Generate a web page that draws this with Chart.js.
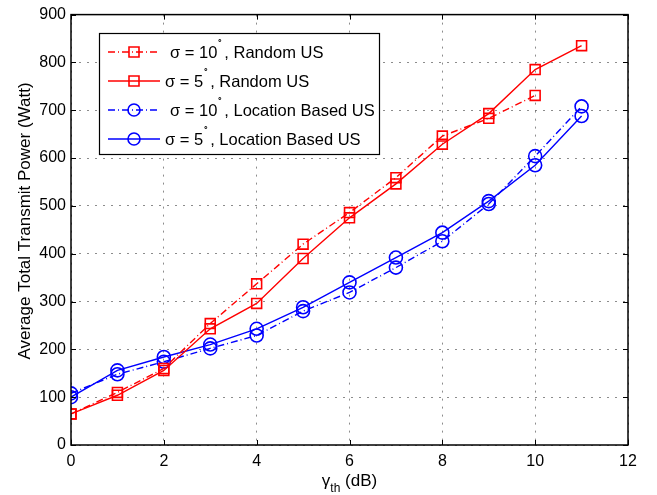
<!DOCTYPE html>
<html>
<head>
<meta charset="utf-8">
<script src="https://cdn.jsdelivr.net/npm/chart.js@4.4.0/dist/chart.umd.min.js"></script>
<style>
  html, body { margin: 0; padding: 0; background: #fff; }
  #wrap { width: 657px; height: 495px; }
</style>
</head>
<body>
<div id="wrap"><canvas id="powerChart" width="657" height="495"></canvas></div>
<script>
// gamma_th values (dB)
const gammaTh = [0, 1, 2, 3, 4, 5, 6, 7, 8, 9, 10, 11];

// Average total transmit power (Watt)
const randomSigma10 = [65, 110, 160, 254, 337, 420, 486, 559, 646, 683, 731];
const randomSigma5 = [65, 104, 156, 243, 296, 390, 475, 546, 629, 693, 785, 835];
const locationSigma10 = [108, 148, 174, 202, 229, 280, 319, 371, 426, 504, 604, 708];
const locationSigma5 = [100, 156, 184, 210, 243, 288, 340, 392, 444, 510, 585, 688];

// legend text pieces
const sigmaLabels = ["10", "5", "10", "5"];
const schemeLabels = ["Random US", "Random US", "Location Based US", "Location Based US"];

const xTicks = [0, 2, 4, 6, 8, 10, 12];
const yTicks = [0, 100, 200, 300, 400, 500, 600, 700, 800, 900];

const FONT = "'Liberation Sans', Arial, sans-serif";
const dashDot = [7, 3, 1, 3];

function toPoints(values) {
    return values.map((v, i) => ({ x: gammaTh[i], y: v }));
}

function makeSet(label, values, color, dash, shape) {
    return {
        label: label,
        data: toPoints(values),
        borderColor: color,
        borderWidth: 1.4,
        borderDash: dash,
        pointStyle: shape,
        pointRadius: shape === "rect" ? 7 : 6.5,
        pointBorderColor: color,
        pointBorderWidth: 1.6,
        pointBackgroundColor: "rgba(0,0,0,0)",
        fill: false,
        tension: 0
    };
}

const datasets = [
    makeSet("sigma10 random", randomSigma10, "#ff0000", dashDot, "rect"),
    makeSet("sigma5 random", randomSigma5, "#ff0000", [], "rect"),
    makeSet("sigma10 location", locationSigma10, "#0000ff", dashDot, "circle"),
    makeSet("sigma5 location", locationSigma5, "#0000ff", [], "circle")
];

// box, inner ticks, titles and legend, drawn the matlab way
const frame = {
    id: "frame",
    afterDraw(chart) {
        const ctx = chart.ctx;
        const a = chart.chartArea;
        const xs = chart.scales.x;
        const ys = chart.scales.y;
        ctx.save();

        // inner tick marks
        ctx.strokeStyle = "#000";
        ctx.lineWidth = 1;
        ctx.setLineDash([]);
        ctx.beginPath();
        xTicks.forEach(t => {
            const px = Math.round(xs.getPixelForValue(t)) + 0.5;
            ctx.moveTo(px, a.bottom); ctx.lineTo(px, a.bottom - 5);
            ctx.moveTo(px, a.top); ctx.lineTo(px, a.top + 5);
        });
        yTicks.forEach(t => {
            const py = Math.round(ys.getPixelForValue(t)) + 0.5;
            ctx.moveTo(a.left, py); ctx.lineTo(a.left + 5, py);
            ctx.moveTo(a.right, py); ctx.lineTo(a.right - 5, py);
        });
        ctx.stroke();

        // plot box
        ctx.lineWidth = 1.5;
        ctx.strokeRect(a.left, a.top, a.right - a.left, a.bottom - a.top);

        // y title
        ctx.fillStyle = "#000";
        ctx.font = "17px " + FONT;
        ctx.textAlign = "center";
        ctx.textBaseline = "middle";
        ctx.save();
        ctx.translate(25, 221);
        ctx.rotate(-Math.PI / 2);
        ctx.fillText("Average Total Transmit Power (Watt)", 0, 0);
        ctx.restore();

        // x title: gamma_th (dB)
        ctx.textAlign = "left";
        ctx.textBaseline = "alphabetic";
        const base = 486;
        const g = "γ", sub = "th", rest = " (dB)";
        ctx.font = "17px " + FONT;
        const wg = ctx.measureText(g).width;
        const wr = ctx.measureText(rest).width;
        ctx.font = "12px " + FONT;
        const ws = ctx.measureText(sub).width;
        let x0 = (a.left + a.right) / 2 - (wg + ws + wr) / 2;
        ctx.font = "17px " + FONT;
        ctx.fillText(g, x0, base);
        ctx.font = "12px " + FONT;
        ctx.fillText(sub, x0 + wg, base + 6);
        ctx.font = "17px " + FONT;
        ctx.fillText(rest, x0 + wg + ws, base);

        // legend
        const lx = 99, ly = 33, lw = 280, lh = 121;
        ctx.fillStyle = "#fff";
        ctx.fillRect(lx, ly, lw, lh);
        ctx.strokeStyle = "#000";
        ctx.lineWidth = 1.2;
        ctx.strokeRect(lx + 0.5, ly + 0.5, lw, lh);
        const rows = [52, 81, 110, 139];
        const textX = [170, 165, 170, 165];
        datasets.forEach((ds, i) => {
            const y = rows[i];
            ctx.strokeStyle = ds.borderColor;
            ctx.lineWidth = ds.borderWidth;
            ctx.setLineDash(ds.borderDash);
            ctx.beginPath();
            ctx.moveTo(108, y); ctx.lineTo(160, y);
            ctx.stroke();
            ctx.setLineDash([]);
            ctx.lineWidth = ds.pointBorderWidth;
            ctx.beginPath();
            if (ds.pointStyle === "rect") {
                ctx.rect(134 - 5, y - 5, 10, 10);
            } else {
                ctx.arc(134, y, 6, 0, Math.PI * 2);
            }
            ctx.stroke();

            ctx.fillStyle = "#000";
            ctx.textBaseline = "middle";
            ctx.font = "16.5px " + FONT;
            const t1 = "σ = " + sigmaLabels[i];
            ctx.fillText(t1, textX[i], y + 1);
            let px = textX[i] + ctx.measureText(t1).width;
            ctx.font = "9px " + FONT;
            ctx.fillText("∘", px, y - 10);
            px += ctx.measureText("∘").width + 1;
            ctx.font = "16.5px " + FONT;
            ctx.fillText(", " + schemeLabels[i], px, y + 1);
        });

        ctx.restore();
    }
};

const ctx = document.getElementById("powerChart").getContext("2d");

new Chart(ctx, {
    type: "line",
    data: { datasets: datasets },
    plugins: [frame],
    options: {
        responsive: false,
        animation: false,
        layout: { padding: { left: 0, right: 29, top: 13, bottom: 0 } },
        plugins: {
            legend: { display: false },
            tooltip: { enabled: false }
        },
        scales: {
            x: {
                type: "linear",
                min: 0,
                max: 12,
                afterFit(scale) { scale.height = 50; },
                afterBuildTicks(scale) { scale.ticks = xTicks.map(v => ({ value: v })); },
                ticks: {
                    color: "#000",
                    font: { family: FONT, size: 16 },
                    padding: 7
                },
                grid: {
                    color: "rgba(0,0,0,0.45)",
                    lineWidth: 1,
                    drawTicks: false
                },
                border: { display: false, dash: [2, 6] }
            },
            y: {
                type: "linear",
                min: 0,
                max: 900,
                afterFit(scale) { scale.width = 71; },
                afterBuildTicks(scale) { scale.ticks = yTicks.map(v => ({ value: v })); },
                ticks: {
                    color: "#000",
                    font: { family: FONT, size: 16 },
                    padding: 5
                },
                grid: {
                    color: "rgba(0,0,0,0.45)",
                    lineWidth: 1,
                    drawTicks: false
                },
                border: { display: false, dash: [2, 6] }
            }
        }
    }
});
</script>
</body>
</html>
